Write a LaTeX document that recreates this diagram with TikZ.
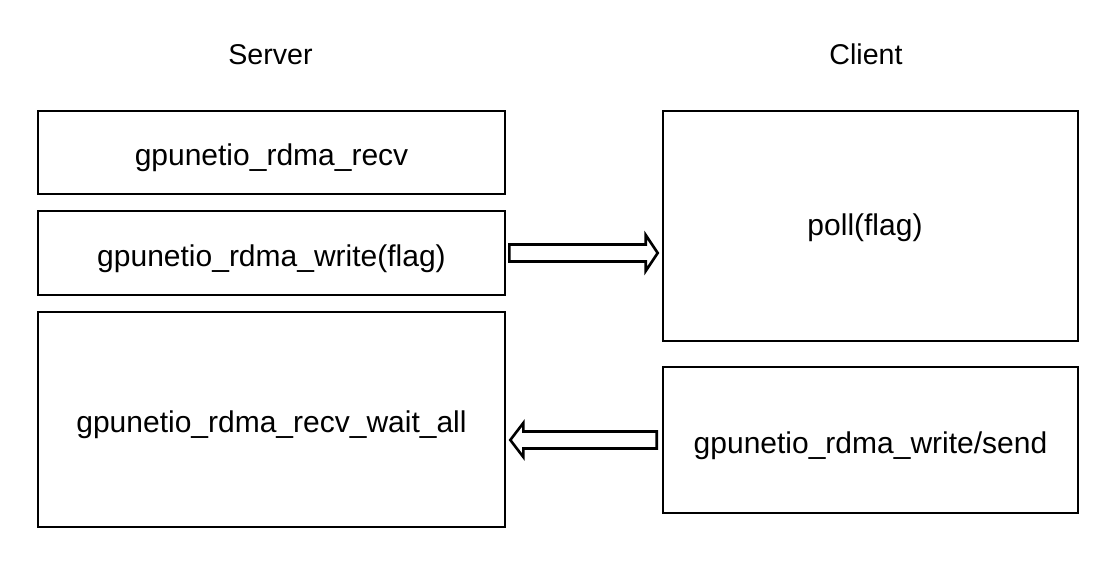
\documentclass[tikz,border=0pt]{standalone}
\usepackage{fontspec}
\setmainfont{Liberation Sans}
\usetikzlibrary{calc}
\begin{document}
\begin{tikzpicture}[x=1pt,y=-1pt,
  box/.style={draw=black,line width=2.6pt,rectangle,inner sep=0pt,align=center,
    text height=32pt,text depth=6pt,font=\fontsize{30}{36}\selectfont},
  title/.style={inner sep=0pt,font=\fontsize{28.6}{34}\selectfont},
  fatarrow/.style={draw=black,line width=2.6pt,line join=miter,fill=white}]
\useasboundingbox (0,0) rectangle (1112,568);
\node[title] (server) at (270.5,54.5) {Server};
\node[title] (client) at (866,54.5) {Client};
\node[box,minimum width=467pt,minimum height=83pt] (recv) at (271.5,152.5) {gpunetio\_rdma\_recv};
\node[box,minimum width=467pt,minimum height=84pt] (write) at (271.5,253) {gpunetio\_rdma\_write(flag)};
\node[box,minimum width=467pt,minimum height=215pt] (wait) at (271.5,419.5) {gpunetio\_rdma\_recv\_wait\_all};
\node[box,minimum width=415pt,minimum height=230pt] (poll) at (870.5,226) {};
\node[box,draw=none,text height=24pt,text depth=6pt] (polltext) at (865,226) {poll(flag)};
\node[box,minimum width=415pt,minimum height=146pt] (send) at (870.5,440) {gpunetio\_rdma\_write/send};
% arrow server -> client
\draw[fatarrow]
  ($(write.east)+(3,-8.5)$) -- ($(poll.west |- write.east)+(-16,-8.5)$)
  -- ($(poll.west |- write.east)+(-16,-18)$)
  -- ($(poll.west |- write.east)+(-4,0)$)
  -- ($(poll.west |- write.east)+(-16,18)$)
  -- ($(poll.west |- write.east)+(-16,8.5)$)
  -- ($(write.east)+(3,8.5)$) -- cycle;
% arrow client -> server
\draw[fatarrow]
  ($(send.west)+(-5,-8.5)$) -- ($(wait.east |- send.west)+(17,-8.5)$)
  -- ($(wait.east |- send.west)+(17,-17)$)
  -- ($(wait.east |- send.west)+(4,0)$)
  -- ($(wait.east |- send.west)+(17,17)$)
  -- ($(wait.east |- send.west)+(17,8.5)$)
  -- ($(send.west)+(-5,8.5)$) -- cycle;
\end{tikzpicture}
\end{document}
